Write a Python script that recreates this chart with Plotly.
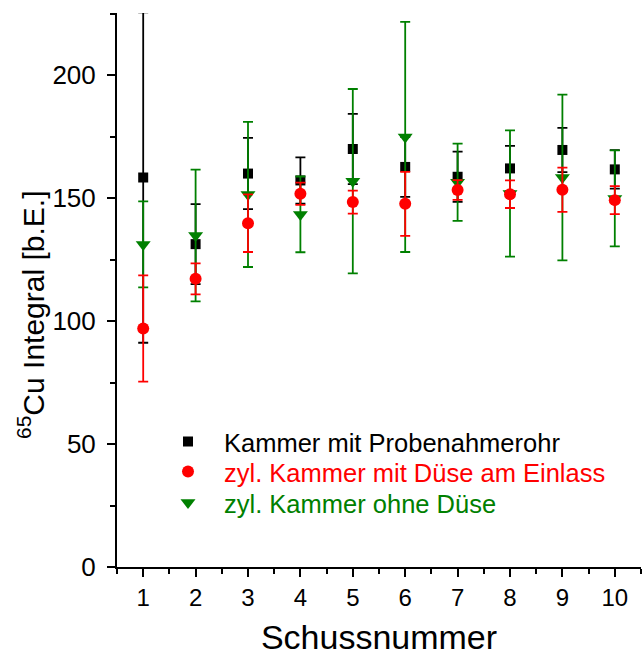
import plotly.graph_objects as go

shots = [1, 2, 3, 4, 5, 6, 7, 8, 9, 10]

black_name = "Kammer mit Probenahmerohr"
black_y = [158.4, 131.3, 160.0, 157.2, 170.0, 162.7, 158.7, 162.1, 169.6, 161.7]
black_err = [67.2, 16.3, 14.5, 9.4, 14.3, 12.2, 10.2, 9.2, 9.0, 7.8]

red_name = "zyl. Kammer mit Düse am Einlass"
red_y = [97.0, 117.2, 139.8, 151.8, 148.4, 147.7, 153.3, 151.6, 153.4, 149.2]
red_err = [21.6, 6.3, 11.7, 4.5, 4.7, 13.0, 4.0, 5.6, 9.0, 5.7]

green_name = "zyl. Kammer ohne Düse"
green_y = [131.2, 134.8, 151.5, 143.4, 156.9, 174.9, 156.5, 151.9, 158.4, 149.9]
green_err = [17.5, 26.8, 29.5, 15.4, 37.5, 46.8, 15.7, 25.7, 33.7, 19.5]

y_title = "<sup>65</sup>Cu Integral [b.E.]"
x_title = "Schussnummer"

FONT = "Arial, Liberation Sans, sans-serif"
BLACK = "#000000"
RED = "#FF0000"
GREEN = "#008000"

fig = go.Figure()

def add(y, err, name, color, symbol, size, legend):
    fig.add_trace(go.Scatter(
        x=shots, y=y, mode="markers", name=name,
        marker=dict(color=color, symbol=symbol, size=size, line=dict(width=0)),
        error_y=dict(type="data", array=err, visible=True, color=color,
                     thickness=1.8, width=5),
        legend=legend,
    ))

add(black_y, black_err, black_name, BLACK, "square", 10, "legend")
add(green_y, green_err, green_name, GREEN, "triangle-down", 13, "legend3")
add(red_y, red_err, red_name, RED, "circle", 12, "legend2")

def leg(y, color):
    return dict(x=0.0668, y=y, xanchor="left", yanchor="middle",
                xref="paper", yref="paper",
                bgcolor="rgba(0,0,0,0)", borderwidth=0,
                font=dict(family=FONT, size=25.5, color=color),
                itemsizing="trace", itemwidth=62)

fig.update_layout(
    width=643, height=656,
    margin=dict(l=117, r=2, t=13, b=89),
    paper_bgcolor="white", plot_bgcolor="white",
    font=dict(family=FONT, size=24, color="black"),
    showlegend=True,
    legend=leg(0.2256, BLACK),
    legend2=leg(0.1715, RED),
    legend3=leg(0.1155, GREEN),
    xaxis=dict(
        range=[0.5, 10.5], tickvals=shots, ticktext=[str(s) for s in shots],
        showgrid=False, zeroline=False, showline=True, linecolor="black", linewidth=2,
        ticks="outside", ticklen=8, tickwidth=2, tickcolor="black",
        minor=dict(tickvals=[i + 0.5 for i in range(0, 11)], ticks="outside",
                   ticklen=5, tickwidth=2, tickcolor="black"),
        tickfont=dict(family=FONT, size=24),
        title=dict(text=x_title, font=dict(family=FONT, size=34), standoff=16),
    ),
    yaxis=dict(
        range=[0, 225.3], tickvals=[0, 50, 100, 150, 200],
        showgrid=False, zeroline=False, showline=True, linecolor="black", linewidth=2,
        ticks="outside", ticklen=8, tickwidth=2, tickcolor="black",
        ticklabelstandoff=6,
        minor=dict(tickvals=[25, 75, 125, 175, 225], ticks="outside",
                   ticklen=5, tickwidth=2, tickcolor="black"),
        tickfont=dict(family=FONT, size=26),
    ),
    annotations=[dict(
        text=y_title, textangle=-90, showarrow=False,
        xref="paper", yref="paper", x=-0.164, y=0.455,
        xanchor="center", yanchor="middle",
        font=dict(family=FONT, size=30, color="black"),
    )],
)

fig.write_html("out.html")
